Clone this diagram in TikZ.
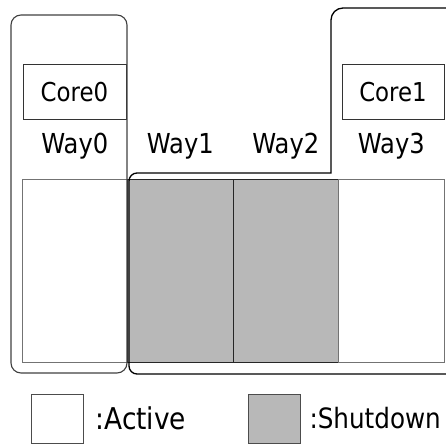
\documentclass[tikz,border=0pt]{standalone}
\usepackage{fontspec}
\setmainfont{DejaVu Sans}[FakeStretch=0.88]
\usetikzlibrary{positioning}

\definecolor{offgray}{HTML}{B8B8B8}
\tikzset{
    every path/.style={line width=1pt},
    waybox/.style={draw=black!55, minimum width=105.5pt, minimum height=182pt, inner sep=0pt, outer sep=0pt},
    offbox/.style={waybox, draw=black!85, fill=offgray},
    corebox/.style={draw=black!80, minimum width=103pt, minimum height=55pt, inner sep=0pt, font=\fontsize{26}{28}\selectfont},
    waylabel/.style={font=\fontsize{27.5}{29}\selectfont, inner sep=0pt},
    keybox/.style={draw=black!70, minimum width=52pt, minimum height=49pt, inner sep=0pt},
    keytext/.style={font=\fontsize{28}{30}\selectfont, inner sep=0pt, anchor=west}
}

\begin{document}
\begin{tikzpicture}[x=1pt, y=1pt]
        \useasboundingbox (0, 0) rectangle (446, 444);
        % cache ways
        \node[waybox] (way0) at (74.75, 173) {};
        \node[offbox, right=0pt of way0] (way1) {};
        \node[offbox, right=0pt of way1] (way2) {};
        \node[waybox, right=0pt of way2] (way3) {};
        \foreach \i in {0, 1, 2, 3} {
            \node[waylabel, above=20pt of way\i] (lbl\i) {Way\i};
        }
        % cores
        \node[corebox] (core0) at (74.5, 351.5) {Core0};
        \node[corebox, minimum width=102pt] (core1) at (393, 351.5) {Core1};
        % partitions
        \draw[black!75, line width=1.1pt, rounded corners=10pt] (11, 71) rectangle (127, 429);
        \draw[line width=1.3pt] (446, 436) -- (343, 436) arc[start angle=90, end angle=180, radius=12]
            -- (331, 271) -- (137, 271) arc[start angle=90, end angle=180, radius=8]
            -- (129, 78) arc[start angle=180, end angle=270, radius=8] -- (446, 70);
        % legend
        \node[keybox] (keyon) at (57, 25.5) {};
        \node[keytext, font=\fontsize{30}{32}\selectfont] (texton) at (95, 26) {:Active};
        \node[keybox, fill=offgray] (keyoff) at (274.5, 25.5) {};
        \node[keytext] (textoff) at (309, 26) {:Shutdown};
    \end{tikzpicture}
\end{document}
